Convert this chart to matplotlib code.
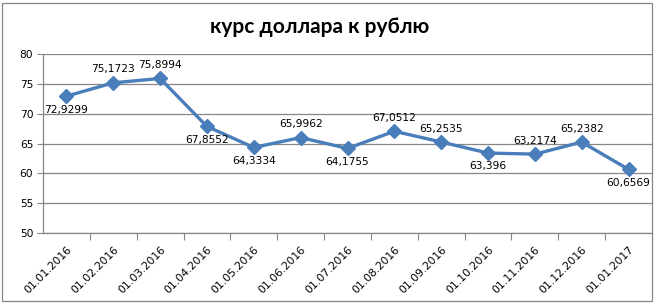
import matplotlib.pyplot as plt
from matplotlib.patches import Rectangle

# Data
dates = ["01.01.2016", "01.02.2016", "01.03.2016", "01.04.2016", "01.05.2016",
         "01.06.2016", "01.07.2016", "01.08.2016", "01.09.2016", "01.10.2016",
         "01.11.2016", "01.12.2016", "01.01.2017"]
rates = [72.9299, 75.1723, 75.8994, 67.8552, 64.3334, 65.9962, 64.1755,
         67.0512, 65.2535, 63.396, 63.2174, 65.2382, 60.6569]
rate_labels = ["72,9299", "75,1723", "75,8994", "67,8552", "64,3334", "65,9962",
               "64,1755", "67,0512", "65,2535", "63,396", "63,2174", "65,2382",
               "60,6569"]
label_above = [False, True, True, False, False, True, False, True, True,
               False, True, True, False]
y_ticks = [50, 55, 60, 65, 70, 75, 80]

W, H = 654, 303
fig = plt.figure(figsize=(W / 100, H / 100), dpi=100)
fig.patch.set_facecolor("white")

# outer chart border
fig.patches.append(Rectangle((2 / W, 2 / H), 650 / W, 298 / H, transform=fig.transFigure,
                             fill=False, edgecolor="#868686", linewidth=0.9))

ax = fig.add_axes([43 / W, 1 - 233 / H, 609 / W, 179 / H])
x = list(range(len(dates)))
ax.plot(x, rates, color="#4A7EBB", linewidth=2.4, marker="D", markersize=7,
        markerfacecolor="#4A7EBB", markeredgecolor="#4A7EBB", zorder=3)

for xi, yi, lab, up in zip(x, rates, rate_labels, label_above):
    ax.annotate(lab, (xi, yi), xytext=(0, 6 if up else -6), textcoords="offset points",
                ha="center", va="bottom" if up else "top", fontsize=7.7,
                family="DejaVu Sans", color="black")

ax.set_xlim(-0.5, len(dates) - 0.5)
ax.set_ylim(50, 80)
ax.set_yticks(y_ticks)
ax.yaxis.grid(True, color="#868686", linewidth=0.9)
ax.set_axisbelow(True)

# category ticks sit between the points, labels under the points
ax.set_xticks([i + 0.5 for i in range(len(dates) - 1)])
ax.set_xticklabels([])
ax.set_xticks(x, minor=True)
ax.set_xticklabels(dates, minor=True, rotation=45, ha="right", rotation_mode="anchor",
                   fontsize=7.8, family="DejaVu Sans")
ax.tick_params(axis="x", which="major", length=5, color="#868686", direction="out")
ax.tick_params(axis="x", which="minor", length=0, pad=8)
ax.tick_params(axis="y", length=4, color="#868686", labelsize=7.7, pad=3)

for side in ["top", "right"]:
    ax.spines[side].set_visible(False)
for side in ["left", "bottom"]:
    ax.spines[side].set_color("#868686")
    ax.spines[side].set_linewidth(0.9)

fig.text(320 / W, 1 - 27 / H, "курс доллара к рублю", ha="center", va="center",
         fontsize=15, fontweight="bold", family="Lato")

fig.savefig("out.png", dpi=100)
